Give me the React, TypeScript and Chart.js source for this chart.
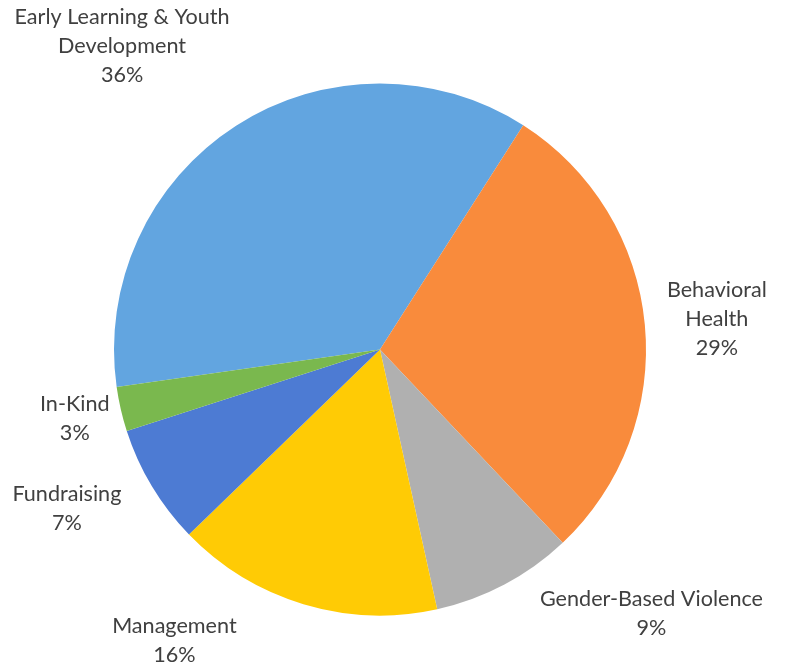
import React, { useEffect, useRef } from "react";
import { Chart, registerables } from "chart.js";

Chart.register(...registerables);

const categories = [
  "Early Learning & Youth\nDevelopment",
  "Behavioral\nHealth",
  "Gender-Based Violence",
  "Management",
  "Fundraising",
  "In-Kind",
];
const values = [36.3, 28.9, 8.6, 16.2, 7.3, 2.7];
const colors = ["#62A5E0", "#F98B3C", "#B0B0B0", "#FFCB05", "#4D7BD3", "#7AB84E"];

// label nudges relative to the outer edge point at each slice's mid-angle
const labelNudges: [number, number][] = [
  [-114, -80],
  [72, -5],
  [147, 29],
  [-129, 36],
  [-85, 22],
  [-46, 9],
];

const labelPlugin = {
  id: "outLabels",
  afterDatasetsDraw(chart: any) {
    const ctx = chart.ctx;
    const meta = chart.getDatasetMeta(0);
    const total = values.reduce((a, b) => a + b, 0);
    ctx.save();
    ctx.font = "21.6px Lato";
    ctx.fillStyle = "#404040";
    ctx.textAlign = "center";
    ctx.textBaseline = "middle";
    meta.data.forEach((arc: any, i: number) => {
      const p = arc.getProps(["x", "y", "startAngle", "endAngle", "outerRadius"], true);
      const mid = (p.startAngle + p.endAngle) / 2;
      const ax = p.x + Math.cos(mid) * p.outerRadius + labelNudges[i][0];
      const ay = p.y + Math.sin(mid) * p.outerRadius + labelNudges[i][1];
      const lines = [...categories[i].split("\n"), Math.round((values[i] / total) * 100) + "%"];
      const lh = 29;
      lines.forEach((l, j) => {
        ctx.fillText(l, ax, ay + (j - (lines.length - 1) / 2) * lh);
      });
    });
    ctx.restore();
  },
};

export default function App() {
  const ref = useRef<HTMLCanvasElement>(null);
  useEffect(() => {
    if (!ref.current) return;
    const chart = new Chart(ref.current, {
      type: "pie",
      data: {
        labels: categories.map((c) => c.replace("\n", " ")),
        datasets: [
          {
            data: values,
            backgroundColor: colors,
            borderWidth: 0,
          },
        ],
      },
      options: {
        animation: false,
        responsive: true,
        maintainAspectRatio: false,
        rotation: -98.1,
        layout: { padding: { left: 114, right: 139, top: 83, bottom: 51 } },
        plugins: {
          legend: { display: false },
          tooltip: { enabled: false },
        },
      },
      plugins: [labelPlugin],
    });
    return () => chart.destroy();
  }, []);
  return (
    <div style={{ position: "fixed", left: 0, top: 0, width: 785, height: 667, background: "#fff" }}>
      <canvas ref={ref} />
    </div>
  );
}
